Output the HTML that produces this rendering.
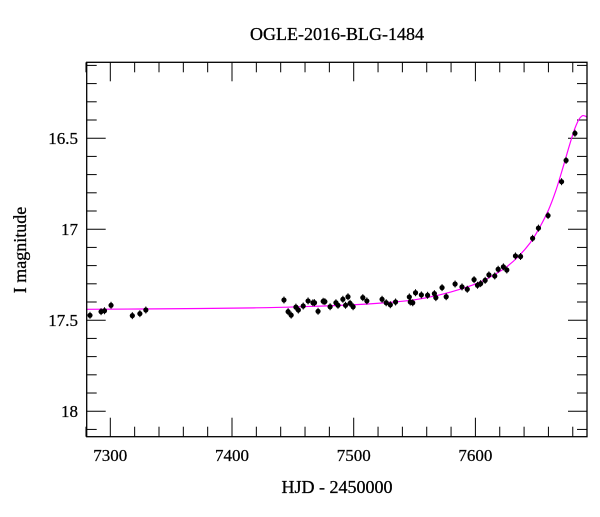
<!DOCTYPE html>
<html><head><meta charset="utf-8"><style>
body{margin:0;background:#fff;}
svg text{font-family:"Liberation Serif",serif;fill:#000;}
</style></head><body>
<svg id="chart" width="600" height="512" xmlns="http://www.w3.org/2000/svg">
<text x="337" y="40" text-anchor="middle" font-size="18" stroke="#000" stroke-width="0.3">OGLE-2016-BLG-1484</text>
<text x="337" y="493" text-anchor="middle" font-size="18" stroke="#000" stroke-width="0.3">HJD - 2450000</text>
<text transform="translate(26,250) rotate(-90)" text-anchor="middle" font-size="18" stroke="#000" stroke-width="0.3">I magnitude</text>
<g id="ticks"></g>
<g id="model"></g>
<g id="points"></g>
<rect x="86.7" y="62.3" width="500.3" height="374.4" fill="none" stroke="#000" stroke-width="1.3"/>
</svg>
<script>
const hjd=[7283.3,7292.4,7295.2,7300.6,7318.1,7324.3,7329.2,7442.7,7446.1,7448.6,7452.5,7454.5,7458.5,7462.5,7466.5,7467.8,7470.7,7474.9,7476.3,7480.6,7485.4,7487.1,7491.1,7493.3,7495.3,7497.0,7499.5,7507.5,7510.8,7523.3,7526.7,7530.1,7534.4,7545.7,7546.5,7548.5,7550.8,7555.6,7560.7,7566.3,7567.5,7572.6,7576.0,7583.3,7589.0,7593.3,7598.9,7601.7,7604.3,7608.0,7611.1,7615.9,7618.7,7623.0,7625.8,7632.9,7637.1,7647.0,7651.8,7659.7,7670.8,7674.5,7681.8];
const mag=[17.473,17.453,17.448,17.418,17.475,17.464,17.444,17.389,17.453,17.472,17.428,17.444,17.422,17.394,17.404,17.404,17.451,17.396,17.398,17.426,17.404,17.418,17.385,17.418,17.371,17.407,17.426,17.376,17.394,17.385,17.404,17.415,17.400,17.372,17.400,17.404,17.349,17.361,17.363,17.354,17.376,17.321,17.371,17.301,17.317,17.330,17.277,17.308,17.299,17.281,17.251,17.257,17.220,17.207,17.224,17.147,17.150,17.050,16.994,16.925,16.739,16.622,16.473];
const modelT=[7280,7350,7420,7460,7500,7530,7550,7570,7590,7605,7615,7625,7635,7645,7652,7660,7666,7672,7677,7681,7684,7686,7688,7690,7692];
const modelM=[17.440,17.437,17.432,17.425,17.415,17.402,17.388,17.362,17.325,17.287,17.252,17.210,17.152,17.075,17.000,16.895,16.790,16.660,16.545,16.460,16.410,16.388,16.376,16.378,16.385];
const xTicks=[7300,7400,7500,7600];
const yTicks=[16.5,17,17.5,18];
const yTickLabels=["16.5","17","17.5","18"];
const X0=7280.6,X1=7691.7,Y0=16.083,Y1=18.14;
const L=86.7,R=587,T=62.3,B=436.7;
const sx=v=>L+(v-X0)/(X1-X0)*(R-L);
const sy=v=>T+(v-Y0)/(Y1-Y0)*(B-T);
const NS="http://www.w3.org/2000/svg";
function mk(tag,attrs,parent){const e=document.createElementNS(NS,tag);for(const k in attrs)e.setAttribute(k,attrs[k]);parent.appendChild(e);return e;}
const tg=document.getElementById('ticks');
for(let d=7280;d<=7690;d+=20){
  const major=d%100===0,len=major?19:10,x=sx(d);
  const t1=mk('line',{x1:x,x2:x,y1:B,y2:B-len,stroke:'#000','stroke-width':1},tg);
  
  
  const t2=mk('line',{x1:x,x2:x,y1:T,y2:T+len,stroke:'#000','stroke-width':1},tg);
  
  
}
xTicks.forEach(v=>{const t=mk('text',{x:sx(v),y:461,'text-anchor':'middle','font-size':17,stroke:'#000','stroke-width':0.25},tg);t.textContent=v;
  
  });
for(let i=1;i<=21;i++){
  const m=16+i*0.1;if(m>Y1)break;
  const major=Math.abs(m*2-Math.round(m*2))<1e-6,len=major?19:10,y=sy(m);
  const t1=mk('line',{x1:L,x2:L+len,y1:y,y2:y,stroke:'#000','stroke-width':1},tg);
  
  
  const t2=mk('line',{x1:R,x2:R-len,y1:y,y2:y,stroke:'#000','stroke-width':1},tg);
  
  
}
yTicks.forEach((v,i)=>{const t=mk('text',{x:78,y:sy(v)+6,'text-anchor':'end','font-size':17,stroke:'#000','stroke-width':0.25},tg);t.textContent=yTickLabels[i];
  
  });
const mg=document.getElementById('model');
let pts=[];for(let i=0;i<modelT.length;i++){const t=Math.min(modelT[i],X1);pts.push([sx(t),sy(modelM[i])]);}
let d='M'+pts[0][0]+','+pts[0][1];
for(let i=0;i<pts.length-1;i++){const p0=pts[Math.max(i-1,0)],p1=pts[i],p2=pts[i+1],p3=pts[Math.min(i+2,pts.length-1)];
  d+=' C'+(p1[0]+(p2[0]-p0[0])/6)+','+(p1[1]+(p2[1]-p0[1])/6)+' '+(p2[0]-(p3[0]-p1[0])/6)+','+(p2[1]-(p3[1]-p1[1])/6)+' '+p2[0]+','+p2[1];}
const path=mk('path',{d:d,fill:'none',stroke:'#ff00ff','stroke-width':1.2},mg);


const pg=document.getElementById('points');
for(let i=0;i<hjd.length;i++){const x=sx(hjd[i]),y=sy(mag[i]);
  const e=mk('line',{x1:x,x2:x,y1:y-3.5,y2:y+3.5,stroke:'#000','stroke-width':1},pg);
  
  
  const c=mk('circle',{cx:x,cy:y,r:2.6,fill:'#000'},pg);
  
  }
</script>
</body></html>
